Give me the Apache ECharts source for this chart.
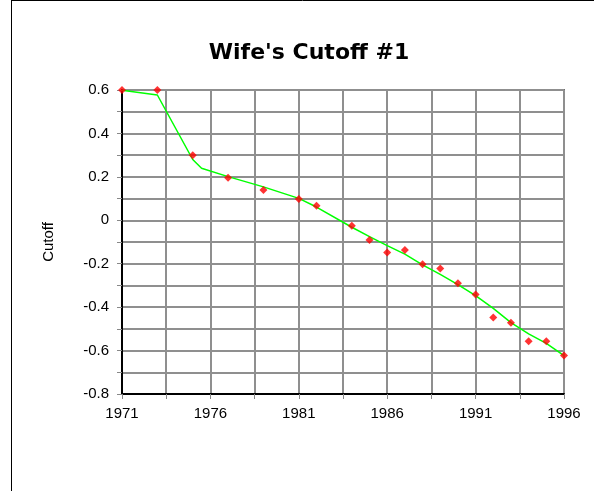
<!DOCTYPE html>
<html>
<head>
<meta charset="utf-8">
<script src="https://cdn.jsdelivr.net/npm/echarts@6/dist/echarts.min.js"></script>
<style>
  html, body { margin: 0; padding: 0; background: #fff; }
  #chart { width: 594px; height: 491px; }
</style>
</head>
<body>
<div id="chart"></div>
<script>
// observed cutoff values (red points)
const pointYears = [1971, 1973, 1975, 1977, 1979, 1981, 1982, 1984, 1985, 1986, 1987, 1988, 1989, 1990, 1991, 1992, 1993, 1994, 1995, 1996];
const pointValues = [0.6, 0.6, 0.30, 0.196, 0.139, 0.098, 0.067, -0.025, -0.091, -0.148, -0.137, -0.202, -0.222, -0.29, -0.342, -0.448, -0.472, -0.557, -0.557, -0.623];

// fitted line (green)
const fitYears = [1971, 1973, 1975, 1975.5, 1977, 1979, 1981, 1982, 1984, 1985, 1986, 1987, 1988, 1989, 1990, 1991, 1992, 1993, 1994, 1995, 1996];
const fitValues = [0.599, 0.577, 0.28, 0.24, 0.201, 0.154, 0.101, 0.061, -0.032, -0.075, -0.117, -0.156, -0.205, -0.249, -0.296, -0.347, -0.406, -0.471, -0.523, -0.567, -0.623];

const startYear = 1971;
const endYear = 1996;
const yMin = -0.8;
const yMax = 0.6;

const font = '"Liberation Sans", Arial, sans-serif';

// x axis runs on years since 1971 so the 2.5-year grid starts on the first label
const toOffset = (years, values) => years.map((y, i) => [y - startYear, values[i]]);

const chart = echarts.init(document.getElementById('chart'));

const option = {
  backgroundColor: '#fff',
  animation: false,
  title: {
    text: "Wife's Cutoff #1",
    left: 304,
    textAlign: 'center',
    top: 37,
    textStyle: {
      fontFamily: '"DejaVu Sans", sans-serif',
      fontWeight: 'bold',
      fontSize: 22,
      color: '#000'
    }
  },
  graphic: [
    { type: 'line', shape: { x1: 11.5, y1: 0, x2: 11.5, y2: 491 }, style: { stroke: '#000', lineWidth: 1 } },
    { type: 'line', shape: { x1: 11, y1: 0.5, x2: 594, y2: 0.5 }, style: { stroke: '#000', lineWidth: 1 } }
  ],
  grid: {
    left: 122,
    right: 30,
    top: 90,
    bottom: 97,
    show: true,
    borderColor: '#000',
    borderWidth: 1.5
  },
  xAxis: {
    type: 'value',
    min: 0,
    max: endYear - startYear,
    interval: 2.5,
    axisLine: { onZero: false, lineStyle: { color: '#000', width: 2 } },
    axisTick: { show: true, length: 5, lineStyle: { color: '#888' } },
    axisLabel: {
      color: '#000',
      fontFamily: font,
      fontSize: 15,
      margin: 12,
      formatter: v => (v % 5 === 0 ? String(startYear + v) : '')
    },
    splitLine: { show: true, lineStyle: { color: '#8f8f8f', width: 2 } }
  },
  yAxis: {
    type: 'value',
    min: yMin,
    max: yMax,
    interval: 0.1,
    name: 'Cutoff',
    nameLocation: 'middle',
    nameGap: 66,
    nameRotate: 90,
    nameTextStyle: { color: '#000', fontFamily: font, fontSize: 15 },
    axisLine: { show: true, onZero: false, lineStyle: { color: '#000', width: 2 } },
    axisTick: { show: true, length: 5, lineStyle: { color: '#888' } },
    axisLabel: {
      color: '#000',
      fontFamily: font,
      fontSize: 15,
      margin: 13,
      formatter: v => {
        const k = Math.round(v * 10);
        if (k % 2 !== 0) return '';
        return k === 0 ? '0' : (k / 10).toFixed(1);
      }
    },
    splitLine: { show: true, lineStyle: { color: '#8f8f8f', width: 2 } }
  },
  series: [
    {
      name: 'fit',
      type: 'line',
      data: toOffset(fitYears, fitValues),
      showSymbol: false,
      lineStyle: { color: '#00ff00', width: 1.5 },
      z: 3
    },
    {
      name: 'observed',
      type: 'scatter',
      data: toOffset(pointYears, pointValues),
      symbol: 'diamond',
      symbolSize: 8,
      itemStyle: { color: '#ff0000' },
      z: 4
    }
  ]
};

chart.setOption(option);
</script>
</body>
</html>
